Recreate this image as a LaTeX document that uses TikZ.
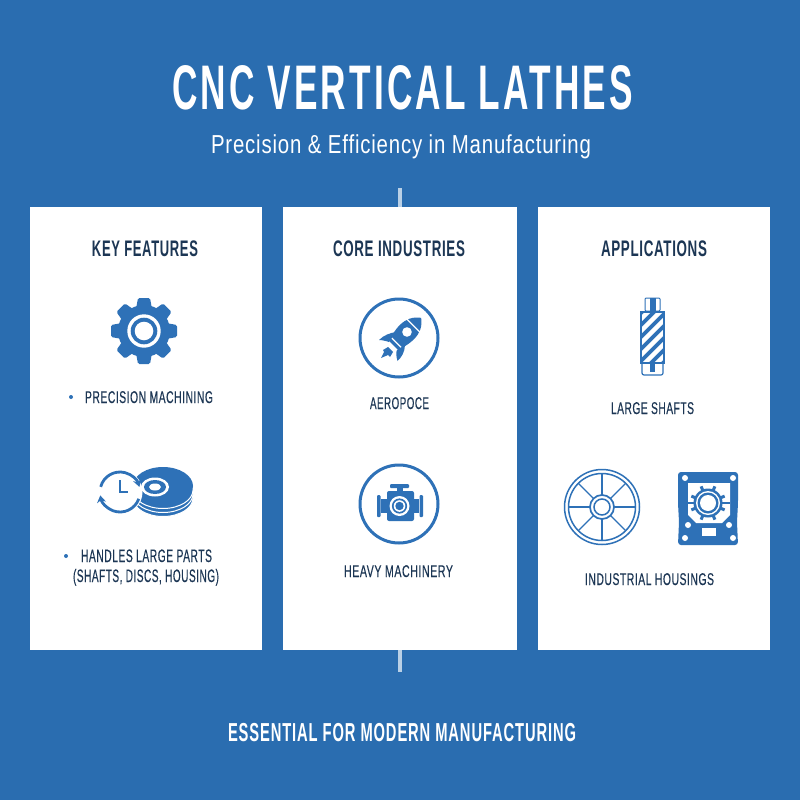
\documentclass[tikz,border=0pt]{standalone}
\usepackage{fontspec}
\usepackage{graphicx}
\usetikzlibrary{arrows.meta}
\setmainfont{Liberation Sans}
\definecolor{bgblue}{HTML}{2A6DB0}
\definecolor{iconblue}{HTML}{2E71B7}
\definecolor{navy}{HTML}{1C3654}
\definecolor{rulecol}{HTML}{B9D0E6}
% width, size, letter spacing, extra features, text
\newcommand{\fitw}[4]{\resizebox{#1pt}{\height}{\fontsize{#2}{#2}\selectfont\addfontfeature{LetterSpace=#3}#4}}
\newcommand{\fitm}[3]{\resizebox{#1pt}{\height}{\fontsize{#2}{#2}\selectfont\addfontfeature{LetterSpace=5,FakeBold=0.4}#3}}
\tikzset{
  lbl/.style={anchor=base,inner sep=0pt,outer sep=0pt},
  whitetxt/.style={lbl,text=white},
  navytxt/.style={lbl,text=navy},
  card/.style={fill=white,draw=none},
  dot/.style={fill=iconblue,draw=none,circle,minimum size=4pt,inner sep=0pt},
  iconline/.style={draw=iconblue,line width=1.6pt},
  ringline/.style={draw=iconblue,line width=3pt},
  divider/.style={draw=rulecol,line width=3.5pt},
}
\begin{document}
\begin{tikzpicture}[x=1pt,y=-1pt]
\useasboundingbox (0,0) rectangle (800,800);
\fill[bgblue] (0,0) rectangle (800,800);

% divider stubs and cards
\coordinate (ruleTopA) at (400,188);
\coordinate (ruleTopB) at (400,207);
\coordinate (ruleBotA) at (400,650);
\coordinate (ruleBotB) at (400,672);
\draw[divider] (ruleTopA) -- (ruleTopB);
\draw[divider] (ruleBotA) -- (ruleBotB);
\fill[card] (30,207) rectangle (262,650);
\fill[card] (283,207) rectangle (517,650);
\fill[card] (538,207) rectangle (770,650);

% titles
\node[whitetxt] (title) at (402.5,110) {\fitw{461}{63}{9}{\bfseries CNC VERTICAL LATHES}};
\node[whitetxt] (subtitle) at (401,153) {\fitw{380}{26}{4}{Precision \& Efficiency in Manufacturing}};
\node[whitetxt] (footer) at (402,741) {\fitw{348}{26}{6}{\bfseries ESSENTIAL FOR MODERN MANUFACTURING}};

% headings
\node[navytxt] (h1) at (145,256) {\fitw{106}{22.5}{5}{\bfseries KEY FEATURES}};
\node[navytxt] (h2) at (399,256) {\fitw{132}{22.5}{5}{\bfseries CORE INDUSTRIES}};
\node[navytxt] (h3) at (654,256) {\fitw{106}{22.5}{5}{\bfseries APPLICATIONS}};

% items
\node[dot] (b1) at (71,397) {};
\node[navytxt] (t1) at (149,403) {\fitm{128}{17}{PRECISION MACHINING}};
\node[dot] (b2) at (66,556) {};
\node[navytxt] (t2a) at (146.5,562) {\fitm{131}{18}{HANDLES LARGE PARTS}};
\node[navytxt] (t2b) at (146,582) {\fitm{146}{18}{(SHAFTS, DISCS, HOUSING)}};
\node[navytxt] (t3) at (399.5,409) {\fitm{59}{17}{AEROPOCE}};
\node[navytxt] (t4) at (398.5,577) {\fitm{109}{17}{HEAVY MACHINERY}};
\node[navytxt] (t5) at (652.5,414) {\fitm{83}{17}{LARGE SHAFTS}};
\node[navytxt] (t6) at (649.5,585) {\fitm{129}{17}{INDUSTRIAL HOUSINGS}};

% gear icon
\begin{scope}[shift={(144,331)}]
  \fill[iconblue] (0,0) circle (26);
  \foreach \a in {0,45,...,315}{
    \fill[iconblue,rounded corners=1.5pt,rotate=\a] (-6,-33) -- (6,-33) -- (8,-22) -- (-8,-22) -- cycle;
  }
  \fill[white] (0,0) circle (16.7);
  \fill[iconblue] (0,0) circle (13.3);
  \fill[white] (0,0) circle (9.3);
\end{scope}

% disc stack with clock
\begin{scope}
  \foreach \dy in {11,7,3}{
    \fill[iconblue] (163,{487+\dy}) ellipse [x radius=30,y radius=18.5];
    \draw[white,line width=1pt] (163,{487+\dy}) ellipse [x radius=30,y radius=18.5];
  }
  \fill[iconblue] (163,486) ellipse [x radius=30,y radius=19];
  \fill[white] (155,487) ellipse [x radius=14,y radius=9.5];
  \fill[iconblue] (155,487) ellipse [x radius=11,y radius=7];
  \fill[white] (155,487) ellipse [x radius=6,y radius=3.5];
  \fill[white] (120,492) circle (22.5);
  \draw[iconblue,line width=2.8pt,-{Stealth[length=7pt,width=9pt]}] (120,492) ++(195:20) arc[start angle=195,end angle=345,radius=20];
  \draw[iconblue,line width=2.8pt,-{Stealth[length=7pt,width=9pt]}] (120,492) ++(20:20) arc[start angle=20,end angle=170,radius=20];
  \draw[iconblue,line width=2pt] (120,480) -- (120,492) -- (128,492);
\end{scope}

% rocket icon
\draw[ringline] (399,338) circle (39);
\begin{scope}[shift={(407,332)},rotate=-45]
  \fill[iconblue] (0,-20) .. controls (7,-15) and (10,-8) .. (10,0) .. controls (10,8) and (8,14) .. (6,19) -- (-6,19) .. controls (-8,14) and (-10,8) .. (-10,0) .. controls (-10,-8) and (-7,-15) .. (0,-20) -- cycle;
  \draw[white,line width=1.3pt] (-10,-9) -- (10,-9);
  \draw[white,line width=1.3pt] (-10,15) -- (10,15);
  \fill[white] (0,0) circle (4.8);
\end{scope}
\fill[iconblue] (379,340) .. controls (384,335) and (390,333) .. (396,332) -- (389,342) .. controls (386,341) and (382,340) .. (379,340) -- cycle;
\fill[iconblue] (397.5,361) .. controls (396,356) and (396,352) .. (397,350) -- (405,345) .. controls (405,352) and (401,358) .. (397.5,361) -- cycle;
\fill[iconblue] (381,358) -- (384,352) -- (383,350) -- (388,347) -- (393,352) -- (390,357) -- (388,355) -- cycle;

% engine icon
\draw[ringline] (399,504) circle (39);
\begin{scope}
  \fill[iconblue,rounded corners=1pt] (390,484) rectangle (409,488);
  \fill[iconblue] (397,487) rectangle (403,492);
  \fill[iconblue,rounded corners=2pt] (387,491) rectangle (414,521);
  \fill[iconblue] (381,499) rectangle (388,513);
  \fill[iconblue] (413,499) rectangle (419,513);
  \fill[iconblue,rounded corners=1pt] (377,495) rectangle (380.5,517);
  \fill[iconblue,rounded corners=1pt] (419.5,495) rectangle (423,517);
  \fill[white] (399.5,506) circle (10);
  \fill[iconblue] (399.5,506) circle (7.6);
  \fill[white] (399.5,506) circle (5.8);
  \fill[iconblue] (399.5,506) circle (4.2);
\end{scope}

% shaft icon
\begin{scope}
  \draw[iconline,line width=1pt,rounded corners=1pt] (645,298) rectangle (660,311);
  \fill[iconblue] (650,298) rectangle (656,311);
  \draw[iconline,line width=1.2pt,rounded corners=2pt] (642,362) rectangle (663,375);
  \fill[iconblue] (650,363) rectangle (655,372);
  \begin{scope}
    \clip (641,312) rectangle (664,363);
    \fill[iconblue] (641,312) rectangle (664,363);
    \foreach \k in {0,...,5}{
      \draw[white,line width=4.5pt] (635,{325+\k*12}) -- (670,{325+\k*12-35});
    }
  \end{scope}
  \draw[iconline,line width=1.2pt] (641,312) rectangle (664,363);
\end{scope}

% wheel icon
\begin{scope}[shift={(602,507)}]
  \draw[iconline,line width=1.5pt] (0,0) circle (37.5);
  \draw[iconline,line width=1.5pt] (0,0) circle (33.5);
  \foreach \a in {0,45,...,315}{
    \draw[iconline,line width=1.3pt,rotate=\a] (12,0) -- (33.5,0);
  }
  \draw[iconline,line width=1.7pt] (0,0) circle (12);
  \draw[iconline,line width=1.5pt] (0,0) circle (8);
\end{scope}

% housing icon
\begin{scope}
  \fill[iconblue,rounded corners=3pt] (678,472) -- (738,472) -- (738,503) -- (737,522) -- (738,545) -- (678,545) -- (679,522) -- (678,503) -- cycle;
  \fill[white] (688,483) -- (730,483) -- (730,515) -- (722,523) -- (696,523) -- (688,515) -- cycle;
  \foreach \p in {(685,478),(733,478),(688,525),(729,525),(685,538),(733,538)}{
    \fill[white] \p circle (3);
  }
  \fill[white] (702,528) rectangle (716,536);
  \fill[iconblue] (688,501.5) rectangle (696,503.5);
  \fill[iconblue] (722,501.5) rectangle (730,503.5);
  \foreach \a in {0,45,...,315}{
    \fill[iconblue,shift={(708,503)},rotate=\a+22.5] (-1.5,-18) rectangle (1.5,-13);
  }
  \fill[iconblue] (708,503) circle (14.5);
  \fill[white] (708,503) circle (12);
  \fill[iconblue] (708,503) circle (10.5);
  \fill[white] (708,503) circle (8);
\end{scope}
\end{tikzpicture}
\end{document}
